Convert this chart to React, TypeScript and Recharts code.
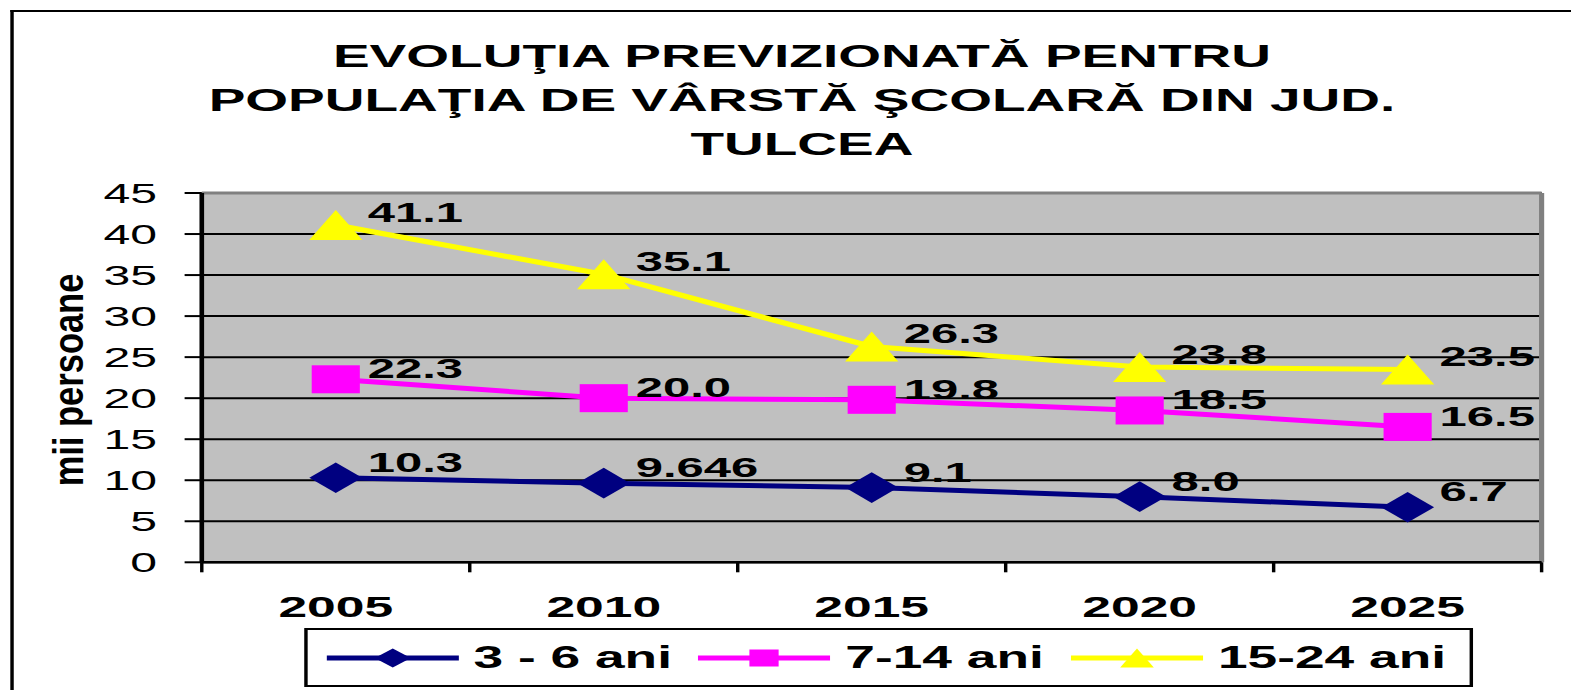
import React from 'react';
import { LineChart, Line, XAxis, YAxis, CartesianGrid, Legend } from 'recharts';

const years = ['2005', '2010', '2015', '2020', '2025'];
const ages3to6 = [10.3, 9.646, 9.1, 8.0, 6.7];
const ages7to14 = [22.3, 20.0, 19.8, 18.5, 16.5];
const ages15to24 = [41.1, 35.1, 26.3, 23.8, 23.5];
const labels3to6 = ['10.3', '9.646', '9.1', '8.0', '6.7'];
const labels7to14 = ['22.3', '20.0', '19.8', '18.5', '16.5'];
const labels15to24 = ['41.1', '35.1', '26.3', '23.8', '23.5'];
const yTicks = [0, 5, 10, 15, 20, 25, 30, 35, 40, 45];
const seriesNames = ['3 - 6 ani', '7-14 ani', '15-24 ani'];
const titleLines = ['EVOLUŢIA PREVIZIONATĂ PENTRU', 'POPULAŢIA DE VÂRSTĂ ŞCOLARĂ DIN JUD.', 'TULCEA'];
const yAxisTitle = 'mii persoane';

const data = years.map((year, i) => ({
  year,
  a: ages3to6[i],
  b: ages7to14[i],
  c: ages15to24[i],
}));

const FONT = '"Liberation Sans", Arial, sans-serif';
const NAVY = '#000080';
const MAGENTA = '#FF00FF';
const YELLOW = '#FFFF00';
const W = 914;
const H = 690;
const SCALE = 1571 / W;

type Shape = 'diamond' | 'square' | 'triangle';

function marker(shape: Shape, cx: number, cy: number, w: number, h: number, fill: string) {
  const rx = w / 2;
  const ry = h / 2;
  if (shape === 'diamond') {
    return <path d={`M${cx - rx},${cy}L${cx},${cy - ry}L${cx + rx},${cy}L${cx},${cy + ry}Z`} fill={fill} />;
  }
  if (shape === 'square') {
    return <rect x={cx - rx} y={cy - ry} width={w} height={h} fill={fill} />;
  }
  return <path d={`M${cx - rx},${cy + ry}L${cx},${cy - ry}L${cx + rx},${cy + ry}Z`} fill={fill} />;
}

function makeDot(shape: Shape, w: number, h: number, fill: string, labels: string[], dy: number) {
  return (p: any) => {
    if (p.cx == null || p.cy == null) return <g key={`e-${p.index}`} />;
    return (
      <g key={`${shape}-${p.index}`}>
        {marker(shape, p.cx, p.cy, w, h, fill)}
        <text
          x={p.cx + 18.6}
          y={p.cy + dy}
          fontFamily={FONT}
          fontWeight="bold"
          fontSize={28.5}
          fill="#000"
        >
          {labels[p.index]}
        </text>
      </g>
    );
  };
}

const XTick = (props: any) => {
  const { x, y, payload, index, visibleTicksCount, width } = props;
  const half = payload && typeof payload.offset === 'number' && payload.offset > 0
    ? payload.offset
    : width / visibleTicksCount / 2;
  const axisY = y - 10;
  return (
    <g>
      <line x1={x - half} x2={x - half} y1={axisY} y2={axisY + 10} stroke="#000" strokeWidth={2} />
      {index === visibleTicksCount - 1 && (
        <line x1={x + half} x2={x + half} y1={axisY} y2={axisY + 10} stroke="#000" strokeWidth={2} />
      )}
      <text x={x} y={axisY + 54.7} textAnchor="middle" fontFamily={FONT} fontWeight="bold" fontSize={30} fill="#000">
        {payload.value}
      </text>
    </g>
  );
};

const legendItems: { name: string; color: string; shape: Shape; left: number; w: number; h: number }[] = [
  { name: seriesNames[0], color: NAVY, shape: 'diamond', left: 10.5, w: 21, h: 19 },
  { name: seriesNames[1], color: MAGENTA, shape: 'square', left: 226.8, w: 17, h: 17 },
  { name: seriesNames[2], color: YELLOW, shape: 'triangle', left: 443.6, w: 19.6, h: 19 },
];

const LegendBox = () => (
  <div
    style={{
      position: 'relative',
      width: 680,
      height: 59,
      border: '2px solid #000',
      boxSizing: 'border-box',
      background: '#fff',
    }}
  >
    {legendItems.map((it) => (
      <div
        key={it.name}
        style={{
          position: 'absolute',
          left: it.left,
          top: 0,
          height: 55,
          display: 'flex',
          alignItems: 'center',
          whiteSpace: 'nowrap',
        }}
      >
        <svg width={77} height={24} style={{ display: 'block' }}>
          <line x1={0} x2={77} y1={12} y2={12} stroke={it.color} strokeWidth={5} />
          {marker(it.shape, 38.5, 12, it.w, it.h, it.color)}
        </svg>
        <span
          style={{
            marginLeft: 9,
            fontFamily: FONT,
            fontWeight: 'bold',
            fontSize: 31,
            lineHeight: 1,
            color: '#000',
          }}
        >
          {it.name}
        </span>
      </div>
    ))}
  </div>
);

const YTitle = () => (
  <text
    transform="translate(48.5,380) rotate(-90) scale(1,0.72)"
    textAnchor="middle"
    fontFamily={FONT}
    fontWeight="bold"
    fontSize={34.5}
    fill="#000"
  >
    {yAxisTitle}
  </text>
);

export default function App() {
  return (
    <div
      style={{
        position: 'absolute',
        left: 0,
        top: 0,
        width: W,
        height: H,
        overflow: 'hidden',
        background: '#fff',
        transform: `scaleX(${SCALE})`,
        transformOrigin: '0 0',
      }}
    >
      <div
        style={{
          position: 'absolute',
          left: 6.2,
          top: 10,
          width: W - 6.2,
          height: H - 10,
          borderLeft: '2.7px solid #000',
          borderTop: '2.5px solid #000',
          boxSizing: 'border-box',
        }}
      />
      <div
        style={{
          position: 'absolute',
          left: 40,
          top: 33.9,
          width: 853.2,
          textAlign: 'center',
          fontFamily: FONT,
          fontWeight: 'bold',
          fontSize: 32,
          lineHeight: '44px',
          color: '#000',
          whiteSpace: 'nowrap',
        }}
      >
        {titleLines.map((t) => (
          <div key={t}>{t}</div>
        ))}
      </div>
      <div style={{ position: 'absolute', left: 0, top: 0 }}>
        <LineChart
          width={W}
          height={H}
          data={data}
          margin={{ top: 193, right: 17.1, left: 37.4, bottom: 87.7 }}
        >
          <CartesianGrid vertical={false} horizontal={true} fill="#C0C0C0" stroke="#000" strokeWidth={2} />
          <CartesianGrid
            horizontal={true}
            vertical={true}
            stroke="#808080"
            strokeWidth={3}
            horizontalCoordinatesGenerator={({ offset }: any) => [offset.top]}
            verticalCoordinatesGenerator={({ offset }: any) => [offset.left + offset.width]}
          />
          <XAxis
            dataKey="year"
            scale="band"
            height={40}
            tickSize={10}
            tickMargin={0}
            tickLine={false}
            axisLine={{ stroke: '#000', strokeWidth: 2.5 }}
            tick={<XTick />}
            interval={0}
          />
          <YAxis
            width={80}
            domain={[0, 45]}
            ticks={yTicks}
            interval={0}
            tickSize={10}
            tickMargin={16}
            axisLine={{ stroke: '#000', strokeWidth: 2.7 }}
            tickLine={{ stroke: '#000', strokeWidth: 2 }}
            tick={{ fontFamily: FONT, fontSize: 28, fill: '#000' }}
            label={{ content: () => <YTitle /> }}
          />
          <Legend
            layout="horizontal"
            verticalAlign="middle"
            align="center"
            wrapperStyle={{ left: 177, top: 628, width: 680, height: 59 }}
            content={() => <LegendBox />}
          />
          <Line
            type="linear"
            dataKey="a"
            name={seriesNames[0]}
            stroke={NAVY}
            strokeWidth={5}
            dot={makeDot('diamond', 30.8, 30.6, NAVY, labels3to6, -6)}
            activeDot={false}
            isAnimationActive={false}
          />
          <Line
            type="linear"
            dataKey="b"
            name={seriesNames[1]}
            stroke={MAGENTA}
            strokeWidth={5}
            dot={makeDot('square', 28, 28, MAGENTA, labels7to14, -1)}
            activeDot={false}
            isAnimationActive={false}
          />
          <Line
            type="linear"
            dataKey="c"
            name={seriesNames[2]}
            stroke={YELLOW}
            strokeWidth={5}
            dot={makeDot('triangle', 31, 30, YELLOW, labels15to24, -3)}
            activeDot={false}
            isAnimationActive={false}
          />
        </LineChart>
      </div>
    </div>
  );
}
